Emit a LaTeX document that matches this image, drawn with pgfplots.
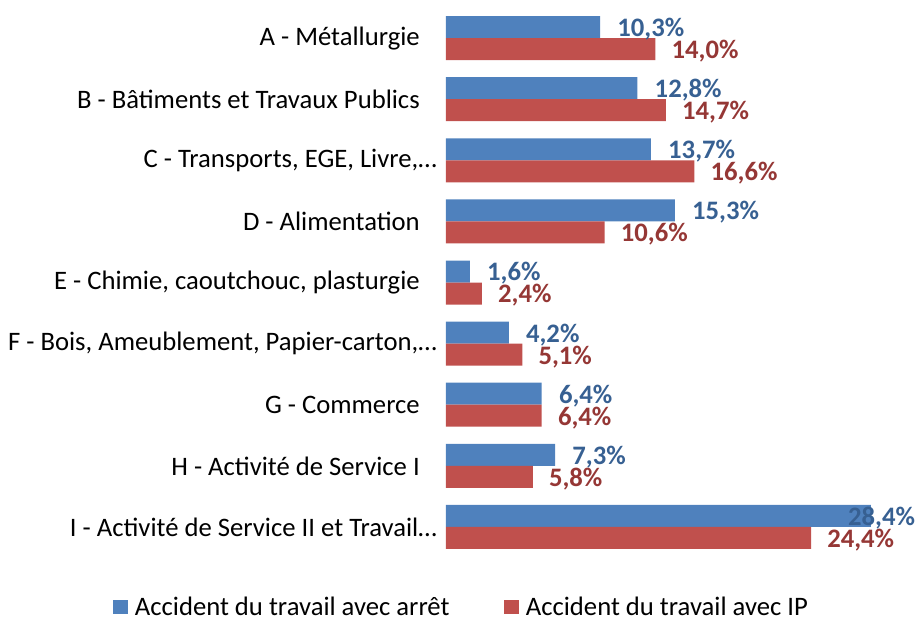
\documentclass[border=0pt]{standalone}
\usepackage{fontspec}
\setmainfont{Carlito}
\usepackage{pgfplots}
\usepackage{pgfplotstable}
\pgfplotsset{compat=1.18}
\definecolor{barblue}{RGB}{79,129,189}
\definecolor{barred}{RGB}{192,80,77}
\definecolor{lblblue}{RGB}{55,96,146}
\definecolor{lblred}{RGB}{149,55,53}
\newcommand\fs{\fontsize{20}{24}\selectfont}

% y = category index (A=0 ... I=8), x = percentage, sh = extra label shift (pt)
\pgfplotstableread{
y x sh
0 10.3 0
1 12.8 0
2 13.7 0
3 15.3 0
4 1.6 0
5 4.2 0
6 6.4 0
7 7.3 0
8 28.4 -30
}\arret
\pgfplotstableread{
y x sh
0 14.0 0
1 14.7 0
2 16.6 0
3 10.6 0
4 2.4 0
5 5.1 0
6 6.4 0
7 5.8 0
8 24.4 0
}\ip

\begin{document}
\begin{tikzpicture}
\path[use as bounding box] (-334.5pt,-46.125pt) rectangle (351.75pt,418.125pt);
\begin{axis}[
  at={(0pt,0pt)}, anchor=south west,
  x=11.22pt, y=45.83pt,
  xbar, bar width=16.5pt,
  xmin=0, xmax=30, ymin=-0.5, ymax=8.5, enlargelimits=false,
  y dir=reverse, clip=false,
  axis line style={draw=none},
  xtick=\empty,
  ytick={0,...,8},
  yticklabels={
    A - Métallurgie\hspace*{12.75pt},
    B - Bâtiments et Travaux Publics\hspace*{12.75pt},
    {C - Transports, EGE, Livre,…},
    D - Alimentation\hspace*{12.75pt},
    {E - Chimie, caoutchouc, plasturgie\hspace*{12.75pt}},
    {F - Bois, Ameublement, Papier-carton,…},
    G - Commerce\hspace*{12.75pt},
    H - Activité de Service I\hspace*{12.75pt},
    I - Activité de Service II et Travail…},
  major tick length=0pt, ytick style={draw=none},
  yticklabel style={font=\fs, inner sep=0pt, xshift=-6.75pt},
  point meta=x,
  /pgf/number format/fixed, /pgf/number format/fixed zerofill,
  /pgf/number format/precision=1, /pgf/number format/use comma,
  /pgf/number format/assume math mode=true,
  nodes near coords={\pgfmathprintnumber{\pgfplotspointmeta}\%},
  nodes near coords style={font=\fs\bfseries, inner sep=0pt, anchor=west, yshift=-1.5pt},
  legend columns=2,
  legend style={draw=none, fill=none, font=\fs, inner sep=0pt,
    at={(-0.742,-0.090)}, anchor=west,
    /tikz/every odd column/.append style={column sep=3pt},
    /tikz/every even column/.append style={column sep=39pt}},
  legend image code/.code={\fill[#1] (0pt,-5.6pt) rectangle (11.25pt,5.6pt);},
]
\addplot[fill=barblue, draw=none, bar shift=8.25pt,
  visualization depends on={\thisrow{sh} \as \lsh},
  every node near coord/.append style={text=lblblue, xshift=12.75pt+\lsh pt}]
  table[x=x, y=y] {\arret};
\addplot[fill=barred, draw=none, bar shift=-8.25pt,
  visualization depends on={\thisrow{sh} \as \lsh},
  every node near coord/.append style={text=lblred, xshift=12pt+\lsh pt}]
  table[x=x, y=y] {\ip};
\legend{Accident du travail avec arrêt, Accident du travail avec IP}
\end{axis}
\end{tikzpicture}
\end{document}
